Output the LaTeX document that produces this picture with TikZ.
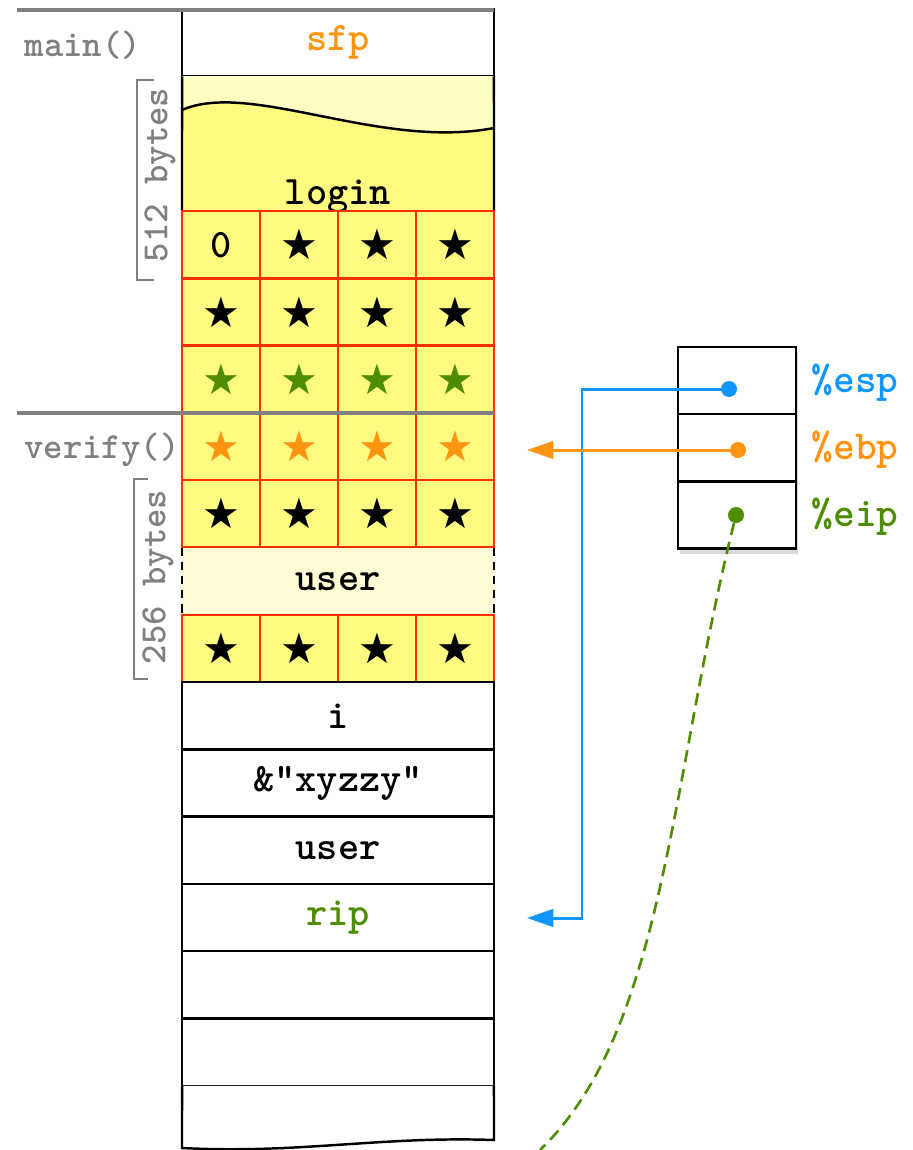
\documentclass[tikz,border=0pt]{standalone}
\usepackage{fontspec}
\newfontfamily\symfont{DejaVu Sans}
\usetikzlibrary{positioning,arrows.meta,shadows}
\definecolor{espblue}{RGB}{17,150,255}
\definecolor{ebporange}{RGB}{255,148,16}
\definecolor{eipgreen}{RGB}{78,140,0}
\definecolor{labelgray}{RGB}{128,128,128}
\definecolor{gridred}{RGB}{255,48,0}
\definecolor{buf}{RGB}{255,250,128}
\definecolor{buflight}{RGB}{255,255,196}
\definecolor{userlight}{RGB}{255,252,214}
\newcommand{\st}{{\symfont\fontsize{24}{24}\selectfont ★}}
\newcommand{\gst}{\textcolor{eipgreen}{\st}}
\newcommand{\ost}{\textcolor{ebporange}{\st}}

\begin{document}
\begin{tikzpicture}[x=0.02cm,y=-0.02cm,node distance=0pt,
  font=\ttfamily\bfseries\fontsize{23}{24}\selectfont,
  word/.style={rectangle,draw,line width=1.4pt,fill=white,minimum width=6.24cm,minimum height=1.346cm,inner sep=0pt,outer sep=0pt},
  cell/.style={rectangle,draw=gridred,line width=1.4pt,fill=buf,minimum width=1.56cm,minimum height=1.346cm,inner sep=0pt,outer sep=0pt},
  reg/.style={rectangle,draw,line width=1.4pt,fill=white,minimum width=2.36cm,minimum height=1.346cm,outer sep=0pt,
    drop shadow={shadow xshift=1pt,shadow yshift=-3pt,opacity=0.3}},
  regdot/.style={circle,inner sep=0pt,minimum size=0.32cm},
  fnlabel/.style={labelgray,font=\ttfamily\bfseries\fontsize{21}{22}\selectfont},
  reglabel/.style={font=\ttfamily\bfseries\fontsize{23.5}{24}\selectfont},
  >={Triangle[length=15pt,width=10pt]}]
\useasboundingbox (0,0) rectangle (913,1150);

% main() frame
\node[word](sfp) at (338,42.75) {\textcolor{ebporange}{sfp}};
\fill[buflight] (sfp.south west) rectangle (494,211);
\fill[buf] (182,110) .. controls (250,80) and (380,150) .. (494,128) |- (182,211) -- cycle;
\draw[line width=1.4pt] (182,110) .. controls (250,80) and (380,150) .. (494,128);
\draw[line width=1.4pt] (sfp.south west) -- (182,211); \draw[line width=1.4pt] (sfp.south east) -- (494,211);
\node[anchor=base](login) at (338,204) {login};

\node[cell](a1) at (221,244.65) {0};
\node[cell](a2)[right=of a1]{\st};
\node[cell](a3)[right=of a2]{\st};
\node[cell](a4)[right=of a3]{\st};
\node[cell](b1)[below=of a1]{\st};
\node[cell](b2)[right=of b1]{\st};
\node[cell](b3)[right=of b2]{\st};
\node[cell](b4)[right=of b3]{\st};
\node[cell](c1)[below=of b1]{\gst};
\node[cell](c2)[right=of c1]{\gst};
\node[cell](c3)[right=of c2]{\gst};
\node[cell](c4)[right=of c3]{\gst};

% verify() frame
\node[cell](d1)[below=of c1]{\ost};
\node[cell](d2)[right=of d1]{\ost};
\node[cell](d3)[right=of d2]{\ost};
\node[cell](d4)[right=of d3]{\ost};
\node[cell](e1)[below=of d1]{\st};
\node[cell](e2)[right=of e1]{\st};
\node[cell](e3)[right=of e2]{\st};
\node[cell](e4)[right=of e3]{\st};
\node[word,draw=none,fill=userlight](user1) at (338,581.15) {user};
\draw[dash pattern=on 5pt off 3pt,line width=1.4pt] (user1.north west) -- (user1.south west);
\draw[dash pattern=on 5pt off 3pt,line width=1.4pt] (user1.north east) -- (user1.south east);
\node[cell](f1) at (221,648.45) {\st};
\node[cell](f2)[right=of f1]{\st};
\node[cell](f3)[right=of f2]{\st};
\node[cell](f4)[right=of f3]{\st};

\node[word](i) at (338,715.75) {i};
\node[word](xyzzy)[below=of i]{\&"xyzzy"};
\node[word](user2)[below=of xyzzy]{user};
\node[word](rip)[below=of user2]{\textcolor{eipgreen}{rip}};
\node[word](m1)[below=of rip]{};
\node[word](m2)[below=of m1]{};
\draw[line width=1.4pt,fill=white] (m2.south west) -- (182,1148) .. controls (300,1154) and (380,1136) .. (494,1140) -- (m2.south east);

% frame labels
\node[fnlabel](lmain) at (83,45) {main()};
\node[fnlabel](lverify) at (102,450) {verify()};
\draw[labelgray,line width=1.2pt] (154,80) -- (137,80) -- (137,280) -- (154,280);
\node[fnlabel,rotate=90](b512) at (160,175) {512 bytes};
\draw[labelgray,line width=1.2pt] (148,479) -- (134,479) -- (134,679) -- (148,679);
\node[fnlabel,rotate=90](b256) at (158,577) {256 bytes};

\draw[labelgray,line width=2.8pt] (17,10) -- (494,10);
\draw[labelgray,line width=2.8pt] (17,413) -- (494,413);

% registers
\node[reg](r1) at (737,380.5) {};
\node[reg](r2)[below=of r1]{};
\node[reg](r3)[below=of r2]{};
\node[reglabel,text=espblue](lesp) at (855,383) {\%esp};
\node[reglabel,text=ebporange](lebp) at (855,450) {\%ebp};
\node[reglabel,text=eipgreen](leip) at (855,517) {\%eip};

\coordinate (bend) at (582,918);
\coordinate (ripin) at (527,918);
\coordinate (ebpin) at (527,450);
\coordinate (lost) at (540,1150);
\node[regdot,fill=espblue](esp) at (729,389) {};
\node[regdot,fill=ebporange](ebp) at (738,450) {};
\node[regdot,fill=eipgreen](eip) at (736,515) {};
\draw[espblue,line width=1.7pt,->] (esp.center) -| (bend) -- (ripin);
\draw[ebporange,line width=1.7pt,->] (ebp.center) -- (ebpin);
\draw[eipgreen,line width=1.5pt,dash pattern=on 7pt off 4pt] (eip) .. controls (670,780) and (665,1030) .. (lost);

\end{tikzpicture}
\end{document}
